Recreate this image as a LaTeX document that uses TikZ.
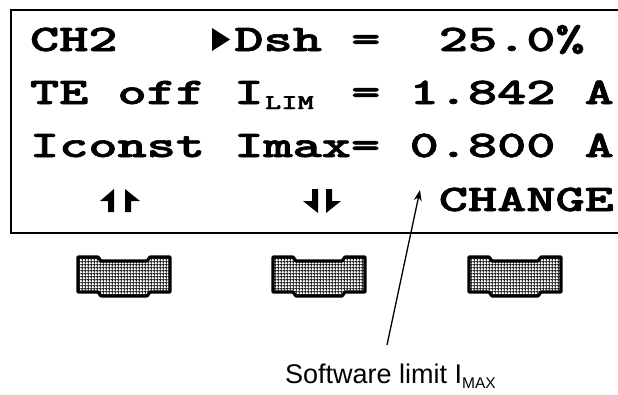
\documentclass[tikz,border=0pt]{standalone}
\usepackage{fontspec}
\usepackage{graphicx}
\newfontfamily\labelfont{Liberation Sans}
\newfontfamily\lcdfont{lmmonolt10-bold}[Extension=.otf,FakeBold=1.6]
\usetikzlibrary{arrows.meta,patterns}
\pgfdeclarepatternformonly{mesh}{\pgfqpoint{0pt}{0pt}}{\pgfqpoint{2.8pt}{2.8pt}}{\pgfqpoint{2.8pt}{2.8pt}}{%
  \pgfsetlinewidth{1pt}%
  \pgfpathmoveto{\pgfqpoint{1.4pt}{0pt}}\pgfpathlineto{\pgfqpoint{1.4pt}{2.8pt}}%
  \pgfpathmoveto{\pgfqpoint{0pt}{1.4pt}}\pgfpathlineto{\pgfqpoint{2.8pt}{1.4pt}}%
  \pgfusepath{stroke}}
\newcommand{\lcdtext}[1]{\scalebox{1.478}[1]{\fontsize{37.6}{37.6}\selectfont\lcdfont #1}}
\newcommand{\lcdsub}[1]{\scalebox{1.478}[1]{\fontsize{21}{21}\selectfont\lcdfont #1}}
\begin{document}
\begin{tikzpicture}[x=1pt,y=-1pt,
  lcd/.style={anchor=base west,inner sep=0pt,outer sep=0pt},
  frame/.style={line width=2.5pt},
  keybtn/.style={line width=3.2pt,line join=round,pattern=mesh,pattern color=black!85,preaction={fill=white}},
  glyph/.style={fill=black},
  pointer/.style={line width=1.3pt,-{Stealth[length=11pt,width=8pt]}}]
\useasboundingbox (0,0) rectangle (618,394);
% display frame (open to the right)
\draw[frame] (630,10) -- (11,10) -- (11,233) -- (630,233);
% line 1
\node[lcd] (ch) at (30,51) {\lcdtext{CH2}};
\fill[glyph] (212,28) -- (230,39.5) -- (212,51) -- cycle;
\node[lcd] (dsh) at (234.4,51) {\lcdtext{Dsh}};
\node[lcd] (eq1) at (351.2,51) {\lcdtext{=}};
\node[lcd] (dv) at (438.8,51) {\lcdtext{25.0\%}};
% line 2
\node[lcd] (te) at (30,104) {\lcdtext{TE off I}};
\node[lcd] (lim) at (265,109) {\lcdsub{LIM}};
\node[lcd] (eq2) at (351.2,104) {\lcdtext{=}};
\node[lcd] (ilim) at (409.6,104) {\lcdtext{1.842 A}};
% line 3
\node[lcd] (ic) at (30,157) {\lcdtext{Iconst Imax=}};
\node[lcd] (imax) at (409.6,157) {\lcdtext{0.800 A}};
% line 4
\fill[glyph] (108,212) -- (108,201) -- (100,201) -- (114,189) -- (114,212) -- cycle;
\fill[glyph] (125,212) -- (125,189) -- (140,201) -- (131,201) -- (131,212) -- cycle;
\fill[glyph] (312,189) -- (318,189) -- (318,213) -- (303,201) -- (312,201) -- cycle;
\fill[glyph] (326,189) -- (332,189) -- (332,201) -- (341,201) -- (326,213) -- cycle;
\node[lcd] (chg) at (438.8,211) {\lcdtext{CHANGE}};
% keys
\foreach \bx in {78,273,469}{
  \draw[keybtn] (\bx,257) -- ++(20,0) -- ++(3,4) -- ++(46,0) -- ++(3,-4) -- ++(20,0)
    -- ++(0,35) -- ++(-20,0) -- ++(-3,4) -- ++(-46,0) -- ++(-3,-4) -- ++(-20,0) -- cycle;
}
% label and pointer
\node[anchor=base west,inner sep=0pt,font=\labelfont\fontsize{27}{27}\selectfont] (lbl) at (285,383)
  {Software limit I\raisebox{-5pt}{\fontsize{15.5}{15.5}\selectfont MAX}};
\coordinate (ptail) at (387,345);
\coordinate (ptip) at (420,190);
\draw[pointer] (ptail) -- (ptip);
\end{tikzpicture}
\end{document}
